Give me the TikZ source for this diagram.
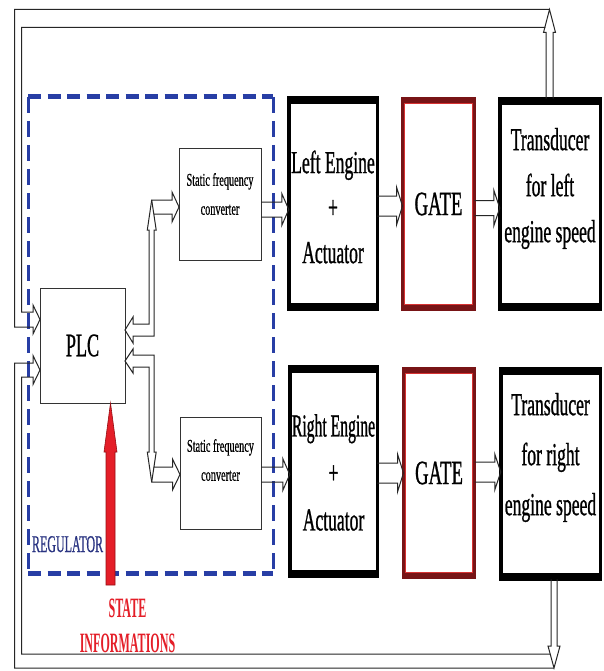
\documentclass[tikz,border=0pt]{standalone}
\usepackage{fontspec}
\setmainfont{Liberation Serif}
\newfontfamily\bigf[FakeStretch=0.55,FakeBold=0.8]{Liberation Serif}
\newfontfamily\bigfn[FakeStretch=0.49,FakeBold=0.8]{Liberation Serif}
\newfontfamily\smf[FakeStretch=0.57,FakeBold=0.5]{Liberation Serif}
\newfontfamily\regf[FakeStretch=0.5,FakeBold=0.5]{Liberation Serif}
\newfontfamily\stf[FakeStretch=0.43]{Liberation Serif Bold}
\usetikzlibrary{calc}
\definecolor{regblue}{RGB}{40,62,165}
\definecolor{regtext}{RGB}{42,52,130}
\definecolor{gatered}{RGB}{120,20,22}
\definecolor{gatein}{RGB}{215,50,50}
\definecolor{stred}{RGB}{228,30,40}
\definecolor{stdark}{RGB}{150,15,20}
\tikzset{
  thinbox/.style={draw=black!80, line width=1pt, inner sep=0pt, outer sep=0pt},
  fatbox/.style={draw=black, line width=3.5pt, inner sep=0pt, outer sep=0pt},
  gatebox/.style={draw=gatered, line width=3pt, inner sep=0pt, outer sep=0pt},
  arrline/.style={draw=black!85, line width=1pt, line join=miter},
  lbl/.style={inner sep=0pt, outer sep=0pt, align=center},
  bigtxt/.style={lbl, font=\bigf\fontsize{32}{45}\selectfont},
  smtxt/.style={lbl, font=\smf\fontsize{18}{29}\selectfont},
  regdash/.style={draw=regblue, dash pattern=on 13pt off 6.5pt},
}
% horizontal block arrow: tail, tip, shaft half width, head half width, head length (signed)
\newcommand\harr[5]{\draw[arrline] let \p1=(#1), \p2=(#2) in
  ({\x1},{\y2+#3pt}) -- ({\x2-(#5pt)},{\y2+#3pt}) -- ({\x2-(#5pt)},{\y2+#4pt}) -- ({\x2},{\y2})
  -- ({\x2-(#5pt)},{\y2-#4pt}) -- ({\x2-(#5pt)},{\y2-#3pt}) -- ({\x1},{\y2-#3pt});}
% vertical block arrow: tail, tip, shaft half width, head half width, head length (positive = up)
\newcommand\varr[5]{\draw[arrline] let \p1=(#1), \p2=(#2) in
  ({\x2-#3pt},{\y1}) -- ({\x2-#3pt},{\y2-(#5pt)}) -- ({\x2-#4pt},{\y2-(#5pt)}) -- ({\x2},{\y2})
  -- ({\x2+#4pt},{\y2-(#5pt)}) -- ({\x2+#3pt},{\y2-(#5pt)}) -- ({\x2+#3pt},{\y1});}
\begin{document}
\begin{tikzpicture}[x=1pt,y=-1pt]
\fill[white] (0,0) rectangle (603,671);
\useasboundingbox (0,0) rectangle (603,671);

% regulator dashed frame
\node[inner sep=0pt, outer sep=0pt, minimum width=245pt, minimum height=476pt] (reg) at (150.5,335) {};
\draw[regdash, line width=5pt] (reg.north west) -- (reg.north east);
\draw[regdash, line width=5pt] (reg.south west) -- (reg.south east);
\draw[regdash, line width=3pt, dash pattern=on 16pt off 8pt] (reg.north west) -- (reg.south west);
\draw[regdash, line width=3pt, dash pattern=on 16pt off 8pt] (reg.north east) -- (reg.south east);

% boxes
\node[thinbox, minimum width=85pt, minimum height=115pt, font=\bigf\fontsize{33}{38}\selectfont] (plc) at (82.5,345.5) {PLC};
\node[thinbox, minimum width=82pt, minimum height=111pt] (sfc1) at (220,204.5) {};
\node[thinbox, minimum width=81pt, minimum height=112pt] (sfc2) at (220.5,473) {};

\node[fatbox, minimum width=88.5pt, minimum height=211.5pt] (le) at (333,203.5) {};
\node[fatbox, minimum width=87.5pt, minimum height=209.5pt] (re) at (333.5,471.5) {};
\node[gatebox, minimum width=72pt, minimum height=211pt] (g1) at (438.5,204) {};
\node[gatebox, minimum width=71pt, minimum height=209pt] (g2) at (439,473) {};
\node[fatbox, minimum width=100.5pt, minimum height=210.5pt] (tr1) at (550,204) {};
\node[fatbox, minimum width=99.5pt, minimum height=210.5pt] (tr2) at (550.5,474) {};

% thick top and bottom edges
\foreach \n in {le,re,tr1,tr2} {
  \draw[line width=8pt] ([shift={(-1.75,2.25)}]\n.north west) -- ([shift={(1.75,2.25)}]\n.north east);
  \draw[line width=8pt] ([shift={(-1.75,-2.25)}]\n.south west) -- ([shift={(1.75,-2.25)}]\n.south east);
}
\foreach \n in {g1,g2} {
  \draw[gatered, line width=6pt] ([shift={(-1.5,1.5)}]\n.north west) -- ([shift={(1.5,1.5)}]\n.north east);
  \draw[gatered, line width=6pt] ([shift={(-1.5,-1.5)}]\n.south west) -- ([shift={(1.5,-1.5)}]\n.south east);
  \draw[gatein, line width=0.9pt] ([shift={(2,5)}]\n.north west) rectangle ([shift={(-2,-5)}]\n.south east);
}

% texts
\node[smtxt] (sfc1t) at ($(sfc1.center)+(0,-10.5)$) {Static frequency\\converter};
\node[smtxt] (sfc2t) at ($(sfc2.center)+(0,-13)$) {Static frequency\\converter};
\node[bigtxt] (let) at ($(le.center)+(0,3.5)$) {Left Engine\\+\\Actuator};
\node[bigtxt, font=\bigf\fontsize{32}{47}\selectfont] (ret) at ($(re.center)+(0,1)$) {{\bigfn Right Engine}\\+\\Actuator};
\node[bigtxt, font=\bigf\fontsize{34}{40}\selectfont] (g1t) at (g1.center) {GATE};
\node[bigtxt, font=\bigf\fontsize{34}{40}\selectfont] (g2t) at (g2.center) {GATE};
\node[bigtxt, font=\bigf\fontsize{32}{46}\selectfont] (tr1t) at ($(tr1.center)+(0,-15.5)$) {Transducer\\for left\\engine speed};
\node[bigtxt, font=\bigf\fontsize{32}{50}\selectfont] (tr2t) at ($(tr2.center)+(0,-16.5)$) {Transducer\\for right\\engine speed};
\node[lbl, anchor=base west, text=regtext, font=\regf\fontsize{24}{28}\selectfont] (regt) at (32,552) {REGULATOR};
\node[lbl, anchor=base, text=stred, font=\stf\fontsize{28}{35}\selectfont] (st1) at (127.5,617) {STATE};
\node[lbl, anchor=base, text=stred, font=\stf\fontsize{28}{35}\selectfont] (st2) at (127.5,652) {INFORMATIONS};

% block arrows between boxes
\harr{sfc1.east}{[yshift=-6pt]le.west}{7.5}{16}{7}
\harr{le.east}{[yshift=-2pt]g1.west}{10}{19}{6}
\harr{g1.east}{[yshift=-4pt]tr1.west}{7.5}{18}{6}
\harr{sfc2.east}{[yshift=-3pt]re.west}{7.5}{16}{7}
\harr{re.east}{g2.west}{10}{19}{6}
\harr{g2.east}{[yshift=2pt]tr2.west}{10}{18}{6}

% PLC <-> static frequency converters
\coordinate (ya) at (0,207);
\coordinate (yb) at (0,330);
\coordinate (yc) at (0,474.5);
\coordinate (yd) at (0,361);
\draw[arrline] (133,324) -- (149,324) -- (149,230) -- (147.3,230) -- (151.7,200)
  -- (172,200) -- (172,192) -- (sfc1.west |- ya) -- (172,222) -- (172,214)
  -- (153.8,214) -- (156.2,230) -- (154,230) -- (154,336) -- (133,336) -- (133,343)
  -- (plc.east |- yb) -- (133,317) -- cycle;
\draw[arrline] (151.7,200) -- (153.8,214);
\draw[arrline] (133,355) -- (154,355) -- (154,452) -- (156.2,452) -- (153.95,467)
  -- (172.5,467) -- (172.5,459) -- (sfc2.west |- yc) -- (172.5,490) -- (172.5,482)
  -- (151.7,482) -- (147.3,452) -- (149,452) -- (149,367) -- (133,367) -- (133,373)
  -- (plc.east |- yd) -- (133,349) -- cycle;
\draw[arrline] (153.95,467) -- (151.7,482);

% feedback loops
\coordinate (fbT) at (549.5,9.5);
\coordinate (fbB) at (554,668);
\coordinate (inA) at (40,319.5);
\coordinate (inB) at (40,370);
\varr{tr1.north}{fbT}{3.5}{6}{23}
\varr{tr2.south}{fbB}{3}{6}{-22}
\draw[arrline] (545.3,27.5) -- (21.5,27.5) -- (21.5,312) -- (33,312) -- (33,305) -- (inA)
  -- (33,334) -- (33,327) -- (14.5,327) -- (14.5,9.5) -- (fbT);
\draw[arrline] (fbB) -- (14.5,668) -- (14.5,363) -- (33,363) -- (33,355.5) -- (inB)
  -- (33,384.5) -- (33,377) -- (21.5,377) -- (21.5,654) -- (550.2,654);

% state information arrow
\coordinate (stTip) at ([xshift=28pt]plc.south);
\filldraw[fill=stred, draw=stdark, line width=0.6pt] (106,585) -- (106,452) -- (104,452)
  -- (stTip) -- (117,452) -- (115,452) -- (115,585) -- cycle;
\end{tikzpicture}
\end{document}
